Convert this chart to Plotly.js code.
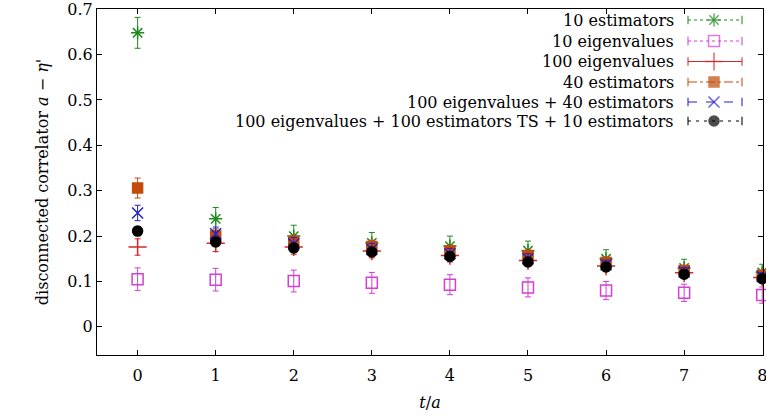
<!DOCTYPE html>
<html>
<head>
<meta charset="utf-8">
<script src="https://cdn.plot.ly/plotly-3.0.1.min.js"></script>
<style>html,body{margin:0;padding:0;background:#fff}#plot{width:766px;height:417px}</style>
</head>
<body>
<div id="plot"></div>
<script>
const tvals = [0, 1, 2, 3, 4, 5, 6, 7, 8];
const seriesNames = [
  "10 estimators",
  "10 eigenvalues",
  "100 eigenvalues",
  "40 estimators",
  "100 eigenvalues + 40 estimators",
  "100 eigenvalues + 100 estimators TS + 10 estimators"
];
const est10    = [0.648, 0.238, 0.200, 0.185, 0.178, 0.168, 0.150, 0.130, 0.120];
const est10Err = [0.034, 0.025, 0.024, 0.023, 0.022, 0.021, 0.020, 0.019, 0.018];
const eig10    = [0.105, 0.104, 0.101, 0.097, 0.093, 0.087, 0.080, 0.075, 0.070];
const eig10Err = [0.025, 0.025, 0.024, 0.023, 0.022, 0.021, 0.020, 0.019, 0.018];
const eig100    = [0.176, 0.184, 0.176, 0.167, 0.157, 0.146, 0.134, 0.119, 0.109];
const eig100Err = [0.018, 0.018, 0.016, 0.015, 0.014, 0.013, 0.012, 0.011, 0.010];
const est40    = [0.306, 0.200, 0.188, 0.177, 0.167, 0.157, 0.142, 0.124, 0.114];
const est40Err = [0.022, 0.016, 0.015, 0.014, 0.013, 0.012, 0.011, 0.010, 0.010];
const eig100est40    = [0.251, 0.205, 0.183, 0.171, 0.161, 0.150, 0.137, 0.121, 0.111];
const eig100est40Err = [0.017, 0.015, 0.014, 0.013, 0.012, 0.011, 0.010, 0.010, 0.009];
const combo    = [0.211, 0.187, 0.174, 0.165, 0.155, 0.143, 0.132, 0.116, 0.106];
const comboErr = [0.010, 0.009, 0.009, 0.008, 0.008, 0.008, 0.007, 0.007, 0.007];
const xTicks = [0, 1, 2, 3, 4, 5, 6, 7, 8];
const yTicks = [0, 0.1, 0.2, 0.3, 0.4, 0.5, 0.6, 0.7];

const FONT = "DejaVu Serif";

const values = [est10, eig10, eig100, est40, eig100est40, combo];
const errs = [est10Err, eig10Err, eig100Err, est40Err, eig100est40Err, comboErr];
const colors = ["#1f8a1f", "#d43fd4", "#d42a2a", "#c24a0a", "#2020cc", "#000000"];
const symbols = ["asterisk-open", "square-open", "cross-thin-open", "square", "x-thin-open", "circle"];
const sizes = [11, 11, 13, 10, 11, 10];
const dashes = ["dot", "dot", "solid", "dashdot", "dash", "3px,5px"];

const traces = [];
for (let i = 0; i < values.length; i++) {
  traces.push({
    x: tvals, y: values[i], type: "scatter", mode: "markers", name: seriesNames[i],
    showlegend: false, cliponaxis: false,
    marker: {color: colors[i], symbol: symbols[i], size: sizes[i], line: {color: colors[i], width: 1.5}},
    error_y: {type: "data", array: errs[i], visible: true, color: colors[i], thickness: 1, width: 3}
  });
}

// legend (gnuplot style: text on the left, sample on the right)
const rowY = [20, 41, 61.5, 82, 102, 121];
const annotations = [];
for (let i = 0; i < seriesNames.length; i++) {
  annotations.push({
    xref: "x2", yref: "y2", x: 676, y: rowY[i], xanchor: "right", yanchor: "middle",
    text: seriesNames[i], showarrow: false,
    font: {family: FONT, size: 16, color: "#000"}
  });
  traces.push({
    x: [688, 714, 742], y: [rowY[i], rowY[i], rowY[i]], xaxis: "x2", yaxis: "y2",
    type: "scatter", mode: "lines+markers", showlegend: false, hoverinfo: "skip",
    line: {color: colors[i], width: 1.2, dash: dashes[i]},
    marker: {color: colors[i], symbol: ["line-ns-open", symbols[i], "line-ns-open"],
             size: [6, sizes[i], 6], line: {color: colors[i], width: 1.5}}
  });
}

const layout = {
  width: 766, height: 417,
  margin: {l: 97, r: 3, t: 9, b: 62},
  paper_bgcolor: "#fff", plot_bgcolor: "#fff",
  font: {family: FONT, size: 16, color: "#000"},
  showlegend: false,
  xaxis: {
    range: [-0.52, 8.01], tickvals: xTicks, ticktext: xTicks.map(String),
    ticks: "inside", ticklen: 5, tickcolor: "#000", showgrid: false, zeroline: false,
    showline: true, mirror: "ticks", linecolor: "#000", linewidth: 1,
    ticklabeloverflow: "allow", ticklabelstandoff: 6,
    tickfont: {family: FONT, size: 16},
    title: {text: "<i>t</i>/<i>a</i>", standoff: 12, font: {family: FONT, size: 16}}
  },
  yaxis: {
    range: [-0.062, 0.7005], tickvals: yTicks, ticktext: yTicks.map(String),
    ticks: "inside", ticklen: 5, tickcolor: "#000", showgrid: false, zeroline: false,
    showline: true, mirror: "ticks", linecolor: "#000", linewidth: 1,
    ticklabeloverflow: "allow",
    tickfont: {family: FONT, size: 16},
    title: {text: "disconnected correlator <i>a</i> − <i>η</i>'", standoff: 14, font: {family: FONT, size: 16}}
  },
  xaxis2: {range: [97, 763], overlaying: "x", visible: false, fixedrange: true},
  yaxis2: {range: [355, 9], overlaying: "y", visible: false, fixedrange: true},
  annotations: annotations
};

Plotly.newPlot("plot", traces, layout, {displayModeBar: false, staticPlot: true});
</script>
</body>
</html>
